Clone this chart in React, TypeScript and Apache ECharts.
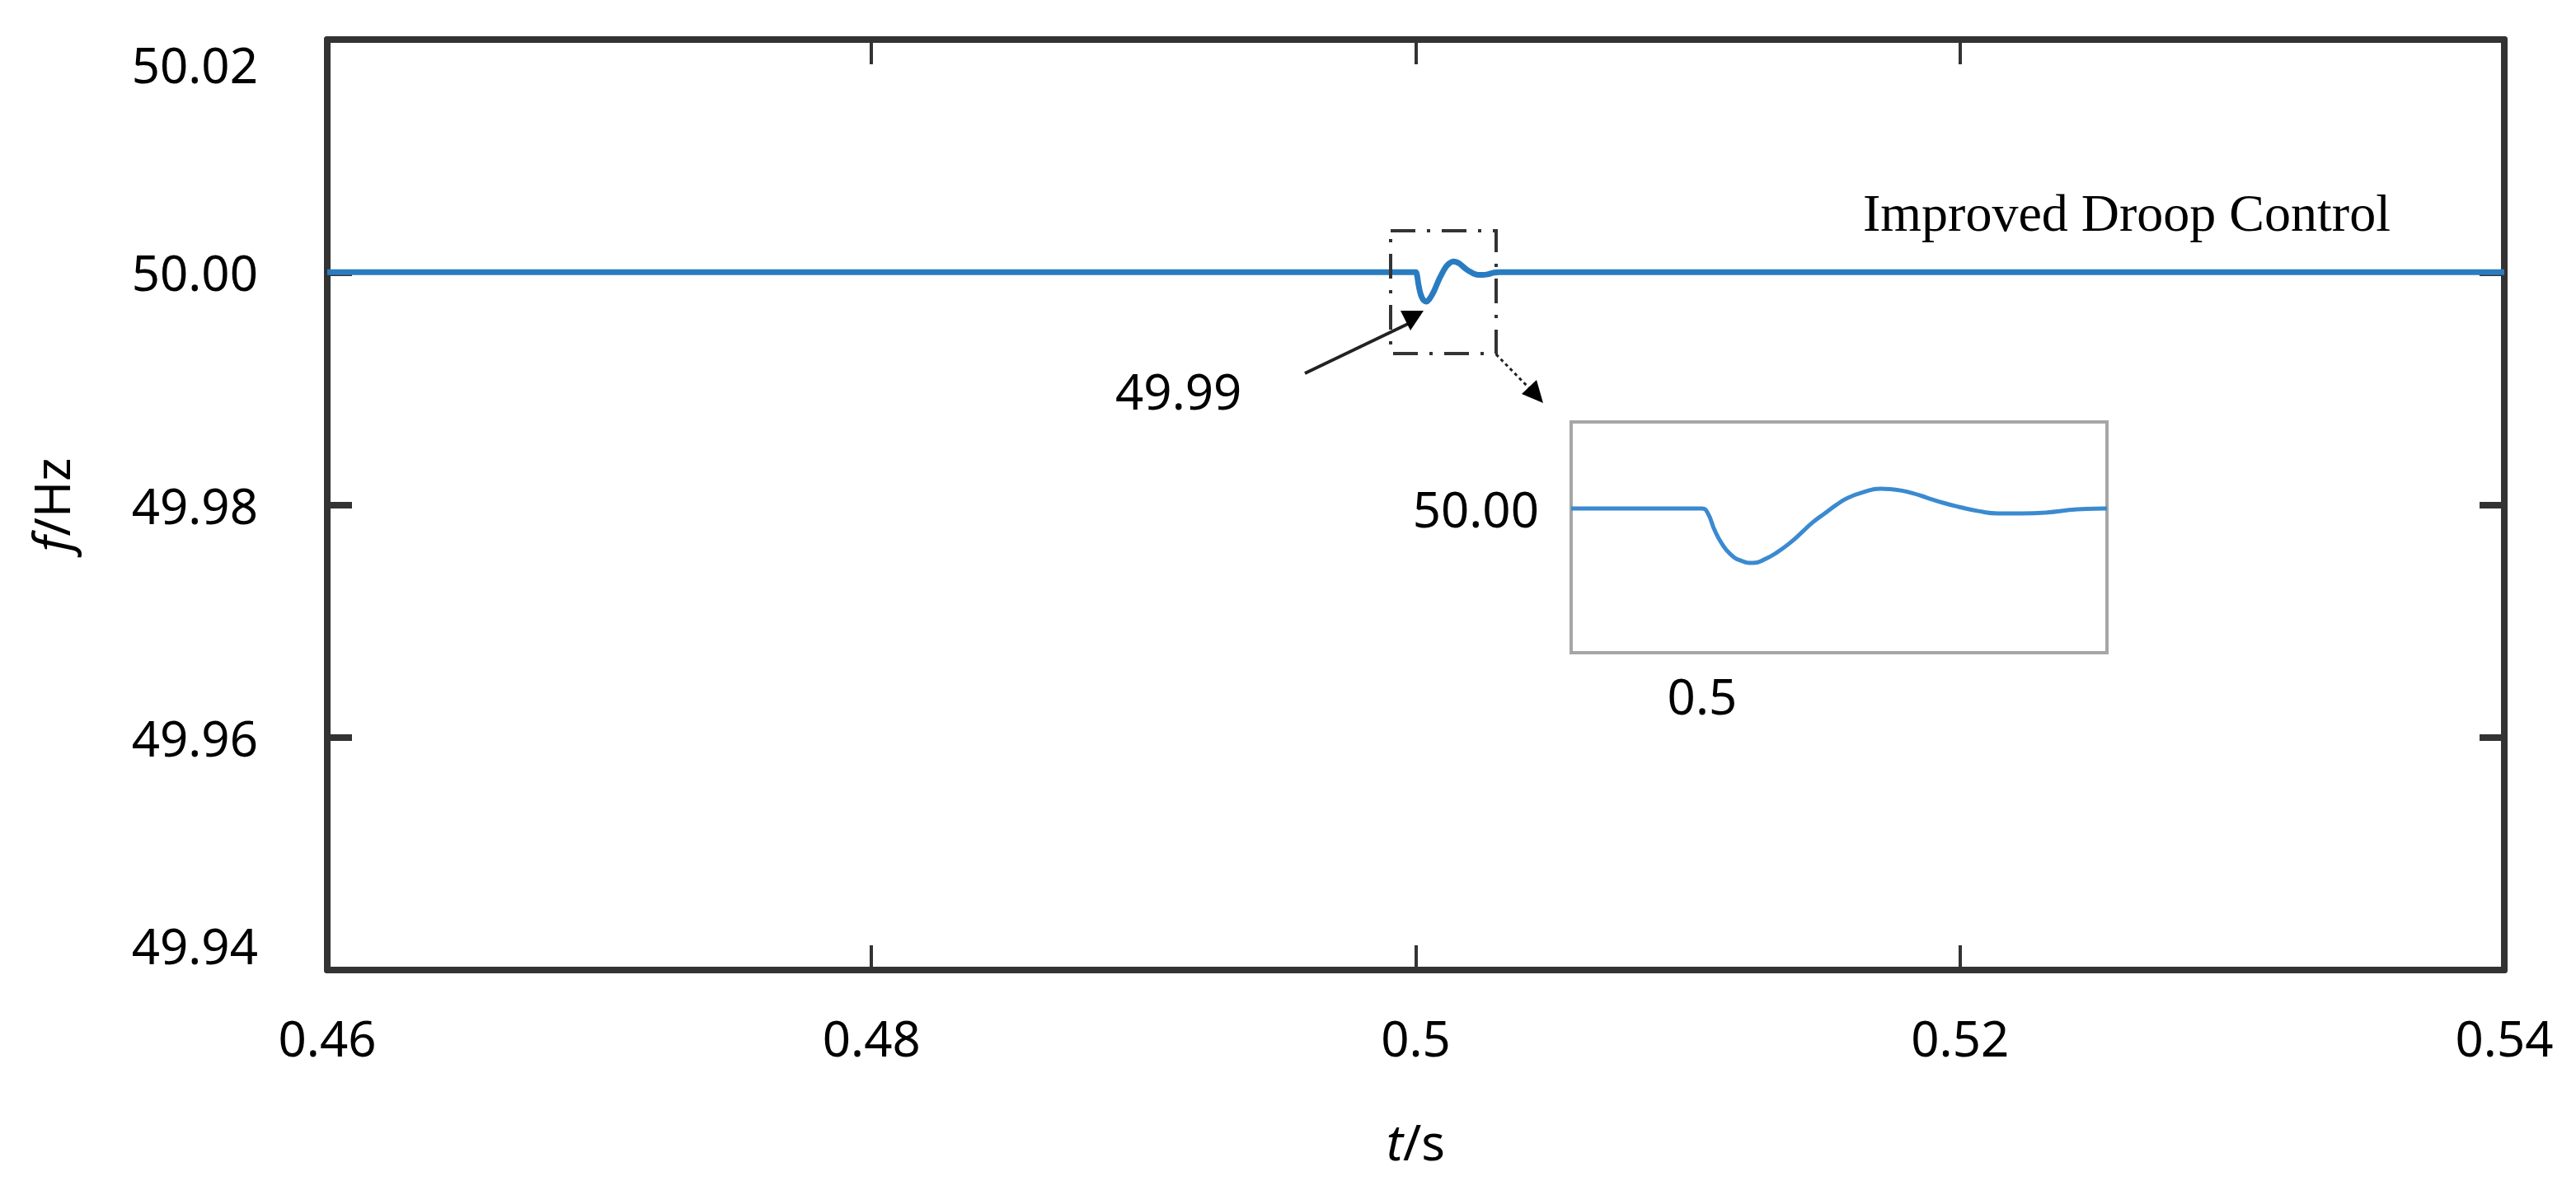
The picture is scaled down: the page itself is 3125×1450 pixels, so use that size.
import React, { useEffect, useRef } from "react";
import * as echarts from "echarts";

// ---- data ----
const xTicks = [0.46, 0.48, 0.5, 0.52, 0.54];
const yTickLabels = ["49.94", "49.96", "49.98", "50.00", "50.02"];
const tStart = 0.46;
const tEnd = 0.54;
const insetTStart = 0.498994;
const insetTEnd = 0.503108;
const insetFMin = 49.99327;
const insetFMax = 50.00404;
const nominalF = 50.0;
// transient around t = 0.5 s
const dipTime = [
  0.5, 0.500044, 0.500095, 0.500152, 0.500215, 0.500291, 0.500392, 0.500487,
  0.500576, 0.500671, 0.500759, 0.500848, 0.500943, 0.501032, 0.50112,
  0.501241, 0.501367, 0.501487, 0.501608, 0.501728, 0.501848, 0.501968,
  0.50212, 0.502272, 0.502456, 0.502639, 0.50288, 0.503089,
];
const dipFreq = [
  50.0, 49.99977, 49.999, 49.99835, 49.99788, 49.99758, 49.99746, 49.99765,
  49.99796, 49.99838, 49.99885, 49.99935, 49.99978, 50.00018, 50.0005,
  50.00077, 50.00092, 50.00088, 50.00073, 50.0005, 50.00027, 50.00008,
  49.99988, 49.99977, 49.99977, 49.99981, 49.99996, 50.0,
];
const seriesName = "Improved Droop Control";
const dipLabel = "49.99";

const SANS = "Noto Sans";
const SERIF = "Liberation Serif";
const BLUE = "#2a7cc1";

export default function App() {
  const ref = useRef<HTMLDivElement>(null);
  useEffect(() => {
    if (!ref.current) return;
    const chart = echarts.init(ref.current, null, { renderer: "svg" });
    const dipPairs = dipTime.map((t, i) => [t, dipFreq[i]]);
    const mainData = [[tStart, nominalF], ...dipPairs, [tEnd, nominalF]];
    const insetData = [[insetTStart, nominalF], ...dipPairs, [insetTEnd, nominalF]];

    const labelStyle = { fontFamily: SANS, fontSize: 60, color: "#000" };
    const frameLine = { show: true, onZero: false, lineStyle: { color: "#333", width: 8 } };

    chart.setOption({
      animation: false,
      backgroundColor: "#fff",
      grid: [
        { left: 397, top: 48, width: 2641, height: 1129, show: false },
        {
          left: 1906, top: 512, width: 650, height: 280, show: true,
          backgroundColor: "#fff", borderColor: "#a6a6a6", borderWidth: 4, z: 5,
        },
      ],
      xAxis: [
        {
          type: "value", gridIndex: 0, min: 0.46, max: 0.54, interval: 0.02,
          axisLine: frameLine,
          axisTick: { show: true, inside: true, length: 30, lineStyle: { color: "#333", width: 4 } },
          axisLabel: {
            ...labelStyle, margin: 52,
            formatter: (v: number) => {
              const s = xTicks.find((x) => Math.abs(x - v) < 1e-9);
              return s === undefined ? "" : String(s);
            },
          },
          splitLine: { show: false },
          name: "{i|t}/s", nameLocation: "middle", nameGap: 178,
          nameTextStyle: {
            ...labelStyle,
            rich: { i: { fontFamily: SANS, fontSize: 60, fontStyle: "italic", color: "#000" } },
          },
        },
        {
          type: "value", gridIndex: 0, position: "top", min: 0.46, max: 0.54, interval: 0.02,
          axisLine: frameLine,
          axisTick: { show: true, inside: true, length: 30, lineStyle: { color: "#333", width: 4 } },
          axisLabel: { show: false }, splitLine: { show: false },
        },
        {
          type: "value", gridIndex: 1, min: insetTStart, max: insetTEnd,
          axisLine: { show: false },
          axisTick: { show: true, inside: true, length: 10, customValues: [0.5], lineStyle: { color: "#888", width: 4 } },
          axisLabel: { ...labelStyle, margin: 22, customValues: [0.5], formatter: () => "0.5" },
          splitLine: { show: false },
        },
        {
          type: "value", gridIndex: 1, position: "top", min: insetTStart, max: insetTEnd,
          axisLine: { show: false },
          axisTick: { show: true, inside: true, length: 10, customValues: [0.5], lineStyle: { color: "#888", width: 4 } },
          axisLabel: { show: false }, splitLine: { show: false },
        },
      ],
      yAxis: [
        {
          type: "value", gridIndex: 0, min: 49.94, max: 50.02, interval: 0.02,
          axisLine: frameLine,
          axisTick: { show: true, inside: true, length: 30, lineStyle: { color: "#333", width: 8 } },
          axisLabel: {
            ...labelStyle, margin: 84,
            verticalAlignMinLabel: "bottom", verticalAlignMaxLabel: "top",
            formatter: (v: number) => {
              const idx = Math.round((v - 49.94) / 0.02);
              return yTickLabels[idx] ?? "";
            },
          },
          splitLine: { show: false },
          name: "{i|f}/Hz", nameLocation: "middle", nameRotate: 90, nameGap: 305,
          nameTextStyle: {
            ...labelStyle,
            rich: { i: { fontFamily: SANS, fontSize: 60, fontStyle: "italic", color: "#000" } },
          },
        },
        {
          type: "value", gridIndex: 0, position: "right", min: 49.94, max: 50.02, interval: 0.02,
          axisLine: frameLine,
          axisTick: { show: true, inside: true, length: 30, lineStyle: { color: "#333", width: 8 } },
          axisLabel: { show: false }, splitLine: { show: false },
        },
        {
          type: "value", gridIndex: 1, min: insetFMin, max: insetFMax,
          axisLine: { show: false },
          axisTick: { show: false },
          axisLabel: { ...labelStyle, margin: 39, customValues: [50.0], formatter: () => "50.00" },
          splitLine: { show: false },
        },
      ],
      series: [
        {
          name: seriesName, type: "line", xAxisIndex: 0, yAxisIndex: 0,
          data: mainData, showSymbol: false, smooth: 0.3,
          lineStyle: { color: BLUE, width: 7 }, z: 3,
        },
        {
          name: seriesName + " (zoom)", type: "line", xAxisIndex: 2, yAxisIndex: 2,
          data: insetData, showSymbol: false, smooth: 0.5,
          lineStyle: { color: "#3a8ad0", width: 5 }, z: 6,
        },
      ],
      graphic: [
        {
          type: "text", left: 2260, top: 226, z: 10,
          style: { text: seriesName, fontFamily: SERIF, fontSize: 64, fill: "#000" },
        },
        {
          type: "text", left: 1353, top: 444, z: 10,
          style: { text: dipLabel, fontFamily: SANS, fontSize: 60, fill: "#000" },
        },
        {
          type: "rect", z: 10,
          shape: { x: 1687, y: 280, width: 128, height: 149 },
          style: { fill: "none", stroke: "#333", lineWidth: 4, lineDash: [30, 14, 4, 14] },
        },
        {
          type: "line", z: 10,
          shape: { x1: 1583, y1: 453, x2: 1708, y2: 393 },
          style: { stroke: "#222", lineWidth: 4 },
        },
        {
          type: "polygon", z: 10,
          shape: { points: [[1699, 377], [1727, 377], [1711, 401]] },
          style: { fill: "#000" },
        },
        {
          type: "line", z: 10,
          shape: { x1: 1815, y1: 430, x2: 1860, y2: 476 },
          style: { stroke: "#222", lineWidth: 3, lineDash: [4, 4] },
        },
        {
          type: "polygon", z: 10,
          shape: { points: [[1872, 489], [1846, 478], [1864, 461]] },
          style: { fill: "#000" },
        },
      ],
    });
    return () => chart.dispose();
  }, []);
  return (
    <div
      ref={ref}
      style={{ position: "fixed", left: 0, top: 0, width: 3125, height: 1450 }}
    />
  );
}
